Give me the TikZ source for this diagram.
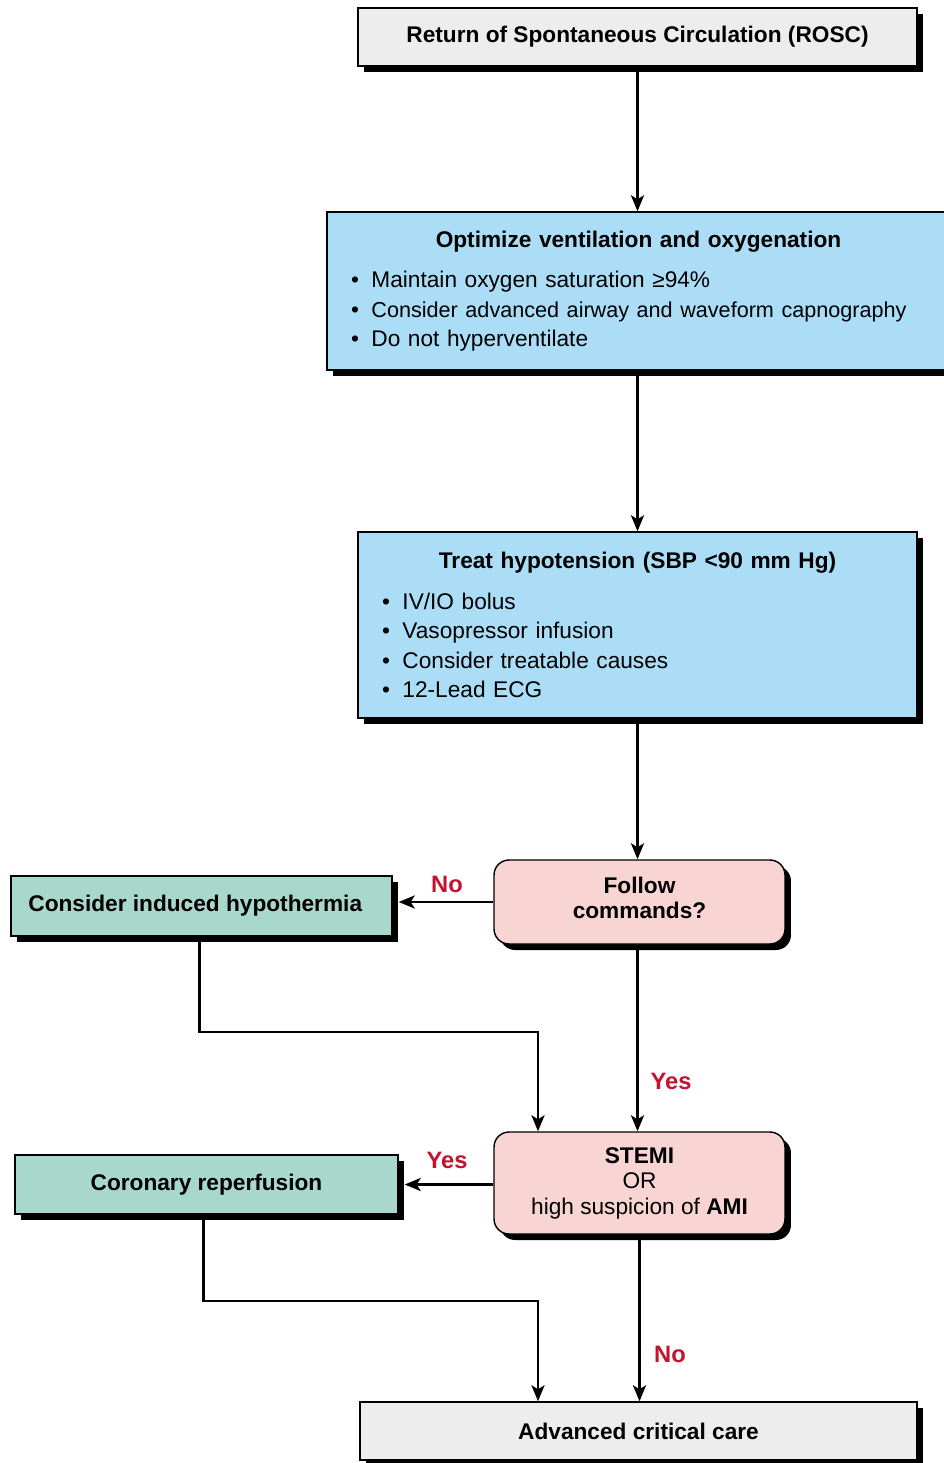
\documentclass[tikz,border=0pt]{standalone}
\usepackage{fontspec}
\setmainfont{Liberation Sans}
\usepackage{tikz}
\usetikzlibrary{shadows,arrows.meta}

\definecolor{boxgray}{HTML}{EDEDED}
\definecolor{boxblue}{HTML}{ABDDF6}
\definecolor{boxpink}{HTML}{F8D4D2}
\definecolor{boxgreen}{HTML}{A8D8CB}
\definecolor{labelred}{HTML}{C4122F}

\begin{document}
\begin{tikzpicture}[x=.02cm, y=-.02cm, line width=1.6pt,
    box/.style={draw, line width=.8pt, inner sep=0pt,
        drop shadow={shadow xshift=.12cm, shadow yshift=-.12cm, fill=black, opacity=1},
        font=\fontsize{12.9}{16.7}\selectfont},
    graybox/.style={box, fill=boxgray, font=\fontsize{12.9}{16.7}\selectfont\bfseries},
    bluebox/.style={box, fill=boxblue, align=left, inner xsep=.48cm},
    pinkbox/.style={box, fill=boxpink, rounded corners=.3cm, align=center,
        minimum width=5.82cm, font=\fontsize{12.9}{14.5}\selectfont},
    greenbox/.style={box, fill=boxgreen, font=\fontsize{12.9}{16.7}\selectfont\bfseries},
    answer/.style={text=labelred, font=\fontsize{13.5}{16}\selectfont\bfseries},
    flow/.style={-{Stealth[length=.32cm, width=.26cm, inset=.08cm]}}]

    \useasboundingbox[fill=white] (0, 0) rectangle (943, 1463);

    % boxes down the middle
    \node[graybox, minimum width=11.18cm, minimum height=1.16cm] (rosc) at (637.5, 37)
        {Return of Spontaneous Circulation (ROSC)};

    \node[bluebox, text width=11.5cm, minimum height=3.16cm] (oxy) at (638.5, 291)
        {{\centering\bfseries Optimize ventilation and oxygenation\par}\vspace{6.5pt}
         \textbullet\hspace{.55em}Maintain oxygen saturation ≥94\%\\
         \mbox{\textbullet\hspace{.55em}{\fontsize{12.3}{16.7}\selectfont Consider advanced airway and waveform capnography}}\\
         \textbullet\hspace{.55em}Do not hyperventilate};

    \node[bluebox, text width=10.22cm, minimum height=3.72cm] (hypo) at (637.5, 625)
        {{\centering\bfseries Treat hypotension (SBP <90 mm Hg)\par}\vspace{6.5pt}
         \textbullet\hspace{.55em}IV/IO bolus\\
         \textbullet\hspace{.55em}Vasopressor infusion\\
         \textbullet\hspace{.55em}Consider treatable causes\\
         \textbullet\hspace{.55em}12-Lead ECG};

    \node[pinkbox, minimum height=1.68cm] (follow) at (639.5, 902)
        {\textbf{Follow}\\ \textbf{commands?}\\[-9.6pt]};

    \node[pinkbox, minimum height=2.04cm] (stemi) at (639.5, 1183)
        {\textbf{STEMI}\\ OR\\ high suspicion of \textbf{AMI}};

    \node[graybox, minimum width=11.14cm, minimum height=1.16cm] (care) at (638.5, 1431)
        {Advanced critical care};

    % boxes on the left
    \node[greenbox, minimum width=7.62cm, minimum height=1.2cm] (cool) at (201.5, 906)
        {\hspace*{-.2cm}Consider induced hypothermia\hspace*{.05cm}};
    \node[greenbox, minimum width=7.66cm, minimum height=1.18cm] (reperf) at (206.5, 1184.5)
        {Coronary reperfusion};

    % bend points of the side paths
    \coordinate (coolbend) at (538, 1032);
    \coordinate (reperfbend) at (538, 1301);

    % connectors
    \draw[flow] (rosc.south) -- (rosc.south |- oxy.north);
    \draw[flow] (oxy.south -| rosc.south) -- (rosc.south |- hypo.north);
    \draw[flow] (hypo.south) -- (hypo.south |- follow.north);
    \draw[flow] (follow.south -| hypo.south) -- (hypo.south |- stemi.north);
    \draw[flow] (stemi.south) -- (stemi.south |- care.north);
    \draw[flow] (follow.west) -- ([xshift=.12cm]follow.west -| cool.east);
    \draw[flow] (stemi.west |- reperf.east) -- ([xshift=.12cm]reperf.east);
    \draw[flow] ([xshift=-.04cm]cool.south) |- (coolbend) -- (coolbend |- stemi.north);
    \draw[flow] ([xshift=-.06cm]reperf.south) |- (reperfbend) -- (reperfbend |- care.north);

    % answers
    \node[answer] (nocool) at (447, 884) {No};
    \node[answer] (yesstemi) at (671, 1081) {Yes};
    \node[answer] (yesreperf) at (447, 1160) {Yes};
    \node[answer] (nocare) at (670, 1354) {No};
\end{tikzpicture}
\end{document}
